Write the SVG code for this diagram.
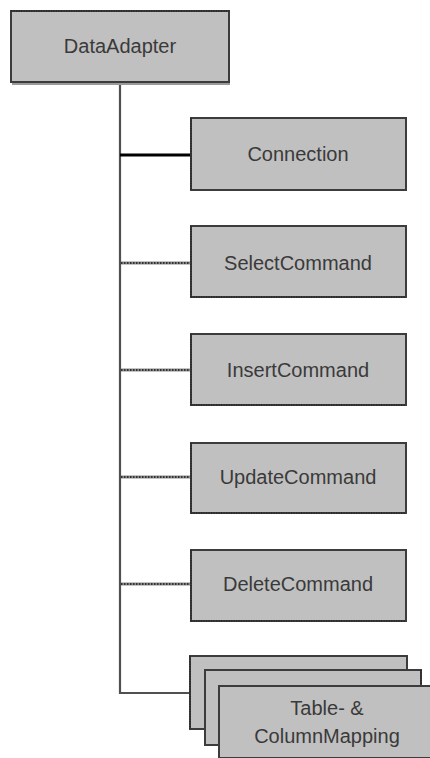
<svg xmlns="http://www.w3.org/2000/svg" width="430" height="758" viewBox="0 0 430 758">
  <style>
    .box { fill: #c0c0c0; stroke: #3c3c3c; stroke-width: 2; }
    .dotedge { fill: none; stroke: #2a2a2a; stroke-width: 2; stroke-dasharray: 1.2 1.3; }
    .label { font-family: "Liberation Sans", Arial, sans-serif; font-size: 20px; fill: #3a3a3a; text-anchor: middle; }
    .trunk { fill: none; stroke: #505050; stroke-width: 2.2; }
    .solid { fill: none; stroke: #000000; stroke-width: 3; }
    .dotbase { fill: none; stroke: #8c8c8c; stroke-width: 3; }
    .dots { fill: none; stroke: #333333; stroke-width: 2; stroke-dasharray: 1.5 1.5; }
  </style>

  <!-- connectors: trunk from DataAdapter and branches to each child -->
  <g id="connectors">
    <path class="trunk" d="M120 82 V693 H190"/>
    <line class="solid" x1="120" y1="155" x2="191" y2="155"/>
    <line class="dotbase" x1="121" y1="263" x2="191" y2="263"/>
    <line class="dots" x1="121" y1="263" x2="191" y2="263"/>
    <line class="dotbase" x1="121" y1="370" x2="191" y2="370"/>
    <line class="dots" x1="121" y1="370" x2="191" y2="370"/>
    <line class="dotbase" x1="121" y1="477" x2="191" y2="477"/>
    <line class="dots" x1="121" y1="477" x2="191" y2="477"/>
    <line class="dotbase" x1="121" y1="584" x2="191" y2="584"/>
    <line class="dots" x1="121" y1="584" x2="191" y2="584"/>
  </g>

  <g id="dataadapter">
    <line x1="12" y1="84" x2="230" y2="84" stroke="#9a9a9a" stroke-width="2"/>
    <rect class="box" x="11" y="11" width="218" height="71"/>
    <line class="dotedge" x1="11" y1="11" x2="229" y2="11"/>
    <text class="label" x="120" y="53">DataAdapter</text>
  </g>

  <g id="connection">
    <rect class="box" x="191" y="118" width="215" height="72"/>
    <line class="dotedge" x1="191" y1="118" x2="191" y2="190"/>
    <text class="label" x="298" y="161">Connection</text>
  </g>

  <g id="selectcommand">
    <rect class="box" x="191" y="226" width="215" height="71"/>
    <line class="dotedge" x1="191" y1="226" x2="191" y2="297"/>
    <line class="dotedge" x1="191" y1="297" x2="406" y2="297"/>
    <text class="label" x="298" y="270">SelectCommand</text>
  </g>

  <g id="insertcommand">
    <rect class="box" x="191" y="334" width="215" height="71"/>
    <line class="dotedge" x1="191" y1="334" x2="191" y2="405"/>
    <line class="dotedge" x1="191" y1="405" x2="406" y2="405"/>
    <text class="label" x="298" y="377">InsertCommand</text>
  </g>

  <g id="updatecommand">
    <rect class="box" x="191" y="443" width="215" height="70"/>
    <line class="dotedge" x1="191" y1="443" x2="191" y2="513"/>
    <line class="dotedge" x1="191" y1="513" x2="406" y2="513"/>
    <text class="label" x="298" y="484">UpdateCommand</text>
  </g>

  <g id="deletecommand">
    <rect class="box" x="191" y="550" width="215" height="71"/>
    <line class="dotedge" x1="191" y1="550" x2="191" y2="621"/>
    <line class="dotedge" x1="191" y1="621" x2="406" y2="621"/>
    <text class="label" x="298" y="591">DeleteCommand</text>
  </g>

  <!-- stacked cards for the mapping collection -->
  <g id="mappings">
    <rect class="box" x="190" y="656" width="217" height="73"/>
    <line class="dotedge" x1="190" y1="656" x2="190" y2="729"/>
    <rect class="box" x="205" y="670" width="216" height="75"/>
    <line class="dotedge" x1="421" y1="670" x2="421" y2="700"/>
    <rect class="box" x="219" y="686" width="218" height="72"/>
    <text class="label" x="327" y="715">Table- &amp;</text>
    <text class="label" x="327" y="743">ColumnMapping</text>
  </g>
</svg>
